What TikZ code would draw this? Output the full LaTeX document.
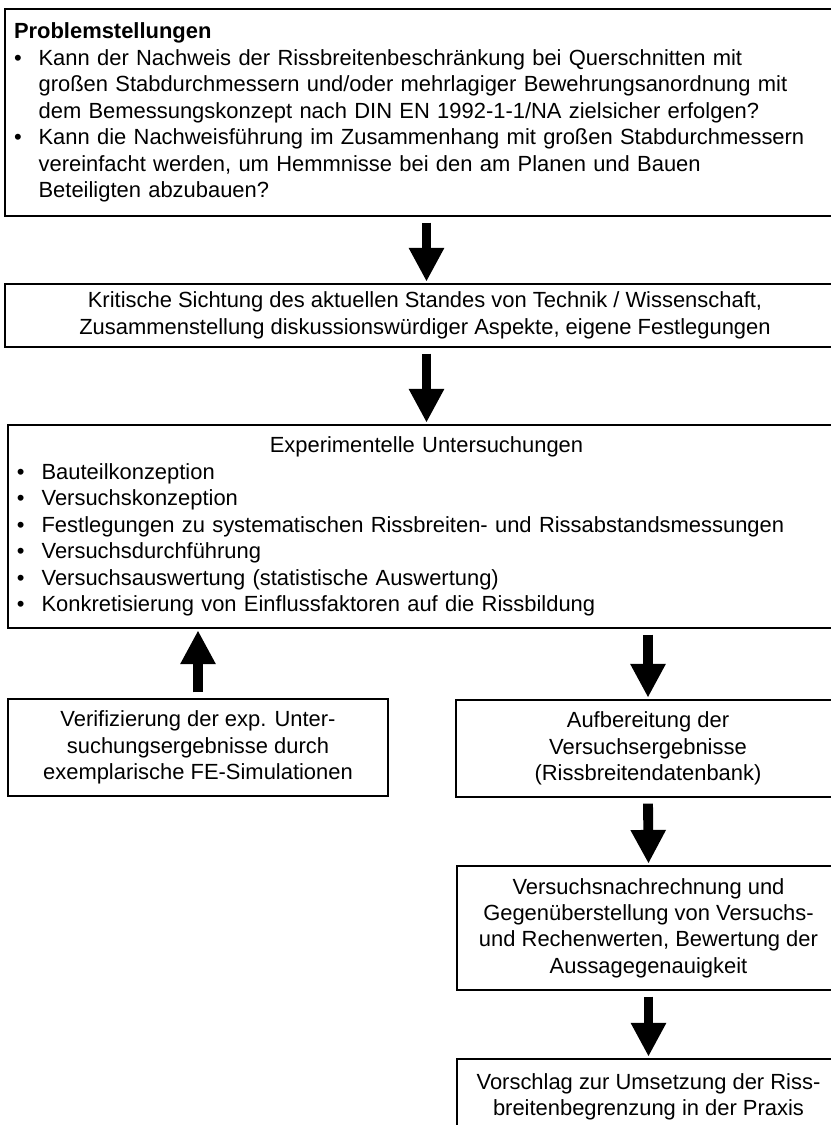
\documentclass[tikz,border=0pt]{standalone}
\usepackage{fontspec}
\setmainfont{Liberation Sans}
\usetikzlibrary{arrows.meta,positioning}
\newlength\pxu
\setlength\pxu{0.025cm}
\newcommand{\itm}{\makebox[17.5pt][l]{\textbullet}}
\newcommand{\ind}{\hspace*{17.5pt}}
\tikzset{
  box/.style={draw, line width=1.3pt, inner sep=0pt, font=\fontsize{15.6}{18.8}\selectfont},
  bigarrow/.style={line width=7pt, -{Triangle[width=23.5pt,length=24pt]}, shorten <=4pt, shorten >=1pt},
}
\begin{document}
\begin{tikzpicture}[x=0.025cm,y=-0.025cm]
  \useasboundingbox (0,0) rectangle (830,1125);
  % Coordinates
  \coordinate (P) at (425,112.5);
  \coordinate (K) at (425,315.5);
  \coordinate (X) at (426.5,526.5);
  \coordinate (V) at (198,747.5);
  \coordinate (A) at (648,748.5);
  \coordinate (N) at (648.5,928);
  \coordinate (U) at (648.5,1097);
  % Boxes
  \node[box, minimum width=840\pxu, minimum height=207\pxu, text width=822\pxu, align=left] (problem) at (P)
    {\textbf{Problemstellungen}\\
     \itm Kann der Nachweis der Rissbreitenbeschränkung bei Querschnitten mit\\
     \ind großen Stabdurchmessern und/oder mehrlagiger Bewehrungsanordnung mit\\
     \ind dem Bemessungskonzept nach DIN EN 1992-1-1/NA zielsicher erfolgen?\\
     \itm Kann die Nachweisführung im Zusammenhang mit großen Stabdurchmessern\\
     \ind vereinfacht werden, um Hemmnisse bei den am Planen und Bauen\\
     \ind Beteiligten abzubauen?};
  \node[box, minimum width=840\pxu, minimum height=63\pxu, align=center] (sichtung) at (K)
    {Kritische Sichtung des aktuellen Standes von Technik / Wissenschaft,\\
     Zusammenstellung diskussionswürdiger Aspekte, eigene Festlegungen};
  \node[box, minimum width=837\pxu, minimum height=203\pxu, text width=819\pxu, align=left] (versuche) at (X)
    {\makebox[\linewidth][c]{Experimentelle Untersuchungen}\\
     \itm Bauteilkonzeption\\
     \itm Versuchskonzeption\\
     \itm Festlegungen zu systematischen Rissbreiten- und Rissabstandsmessungen\\
     \itm Versuchsdurchführung\\
     \itm Versuchsauswertung (statistische Auswertung)\\
     \itm Konkretisierung von Einflussfaktoren auf die Rissbildung};
  \node[box, minimum width=380\pxu, minimum height=97\pxu, align=center] (verifikation) at (V)
    {Verifizierung der exp. Unter-\\
     suchungsergebnisse durch\\
     exemplarische FE-Simulationen};
  \node[box, minimum width=384\pxu, minimum height=97\pxu, align=center] (aufbereitung) at (A)
    {Aufbereitung der\\
     Versuchsergebnisse\\
     (Rissbreitendatenbank)};
  \node[box, minimum width=383\pxu, minimum height=124\pxu, align=center] (nachrechnung) at (N)
    {Versuchsnachrechnung und\\
     Gegenüberstellung von Versuchs-\\
     und Rechenwerten, Bewertung der\\
     Aussagegenauigkeit};
  \node[box, minimum width=383\pxu, minimum height=76\pxu, align=center] (vorschlag) at (U)
    {Vorschlag zur Umsetzung der Riss-\\
     breitenbegrenzung in der Praxis};
  % Arrows
  \draw[bigarrow] (problem.south -| versuche.north) -- (sichtung.north -| versuche.north);
  \draw[bigarrow] (sichtung.south -| versuche.north) -- (versuche.north);
  \draw[bigarrow] (verifikation.north) -- (verifikation.north |- versuche.south);
  \draw[bigarrow] (aufbereitung.north |- versuche.south) -- (aufbereitung.north);
  \draw[bigarrow] (aufbereitung.south) -- (nachrechnung.north);
  \draw[bigarrow] (nachrechnung.south) -- (vorschlag.north);
\end{tikzpicture}
\end{document}
